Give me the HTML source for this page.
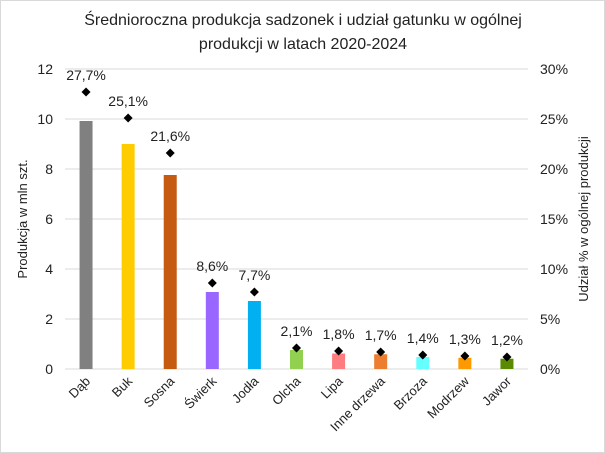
<!DOCTYPE html>
<html><head><meta charset="utf-8"><style>
body{margin:0;background:#fff}
svg{display:block;font-family:"Liberation Sans",sans-serif}
</style></head><body>
<svg id="chart" width="605" height="453" viewBox="0 0 605 453">
<rect x="0.5" y="0.5" width="604" height="452" fill="#fff" stroke="#d9d9d9"/>
<text x="303" y="25" text-anchor="middle" font-size="16" fill="#222">Średnioroczna produkcja sadzonek i udział gatunku w ogólnej</text>
<text x="303" y="49" text-anchor="middle" font-size="16" fill="#222">produkcji w latach 2020-2024</text>
<g id="grid"></g><g id="bars"></g><g id="marks"></g><g id="axes"></g>
<text transform="translate(27,219) rotate(-90)" text-anchor="middle" font-size="13" fill="#222">Produkcja w mln szt.</text>
<text transform="translate(588,219) rotate(-90)" text-anchor="middle" font-size="13" fill="#222">Udział % w ogólnej produkcji</text>
</svg>
<script>
const categories=["Dąb","Buk","Sosna","Świerk","Jodła","Olcha","Lipa","Inne drzewa","Brzoza","Modrzew","Jawor"];
const production=[9.92,9.0,7.76,3.08,2.72,0.76,0.62,0.59,0.48,0.45,0.41];
const shares=[27.7,25.1,21.6,8.6,7.7,2.1,1.8,1.7,1.4,1.3,1.2];
const shareLabels=["27,7%","25,1%","21,6%","8,6%","7,7%","2,1%","1,8%","1,7%","1,4%","1,3%","1,2%"];
const colors=["#808080","#ffcc00","#c55a11","#9966ff","#00b0f0","#92d050","#ff7c80","#ed7d31","#66ffff","#ff9900","#5a8a00"];
const leftTicks=[0,2,4,6,8,10,12];
const rightTicks=["0%","5%","10%","15%","20%","25%","30%"];
const NS="http://www.w3.org/2000/svg";
const x0=65,x1=528,yb=369,yt=69;
const yL=v=>yb-(v/12)*(yb-yt);
const yR=v=>yb-(v/30)*(yb-yt);
const step=(x1-x0)/categories.length;
const xC=i=>x0+step*(i+0.5);
function mk(t,a,p){const e=document.createElementNS(NS,t);for(const k in a)e.setAttribute(k,a[k]);p.appendChild(e);return e;}
const grid=document.getElementById('grid'),bars=document.getElementById('bars'),marks=document.getElementById('marks'),axes=document.getElementById('axes');
leftTicks.forEach((v,i)=>{
  const l=mk('line',{x1:x0,x2:x1,y1:yL(v),y2:yL(v),stroke:'#d9d9d9','stroke-width':1},grid);
  
  
  const t=mk('text',{x:53,y:yL(v)+5,'text-anchor':'end','font-size':14,fill:'#222'},axes);
  t.textContent=v;
  
  
  const r=mk('text',{x:540,y:yL(v)+5,'text-anchor':'start','font-size':14,fill:'#222'},axes);
  r.textContent=rightTicks[i];
  
  
});
categories.forEach((c,i)=>{
  const cx=xC(i);
  const b=mk('rect',{x:cx-6.5,y:yL(production[i]),width:13,height:yb-yL(production[i]),fill:colors[i]},bars);
  
  
  const py=yR(shares[i]);
  const d=mk('path',{d:`M${cx} ${py-4.5}L${cx+4.5} ${py}L${cx} ${py+4.5}L${cx-4.5} ${py}Z`,fill:'#000'},marks);
  
  
  const lt=mk('text',{x:cx,y:py-12,'text-anchor':'middle','font-size':14,fill:'#222'},marks);
  lt.textContent=shareLabels[i];
  
  
  const xt=mk('text',{transform:`translate(${cx+5},${yb+13}) rotate(-45)`,'text-anchor':'end','font-size':13,fill:'#222'},axes);
  xt.textContent=c;
  
  
});
</script>
</body></html>
